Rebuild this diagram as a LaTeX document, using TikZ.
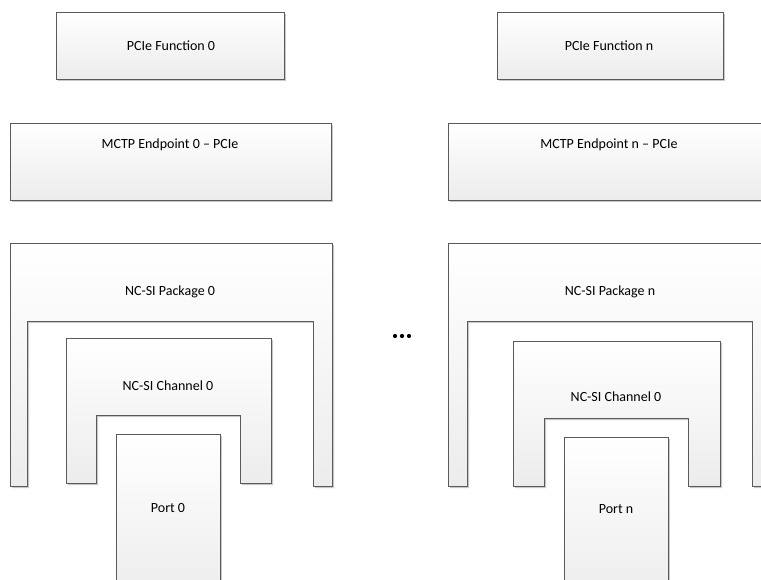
\documentclass[tikz,border=0pt]{standalone}
\usepackage{fontspec}
\setmainfont{Carlito}
\begin{document}
\begin{tikzpicture}[x=1pt,y=-1pt,
  box/.style={draw=bordergray, line width=0.9pt, top color=white, bottom color=fillbot},
  shadowbox/.style={fill=shadowgray, draw=none, shift={(2,2)}},
  lbl/.style={font=\fontsize{14}{16}\selectfont, inner sep=0pt, text=black}]
\definecolor{bordergray}{HTML}{5A5A5A}
\definecolor{fillbot}{HTML}{ECECEC}
\definecolor{shadowgray}{HTML}{C8C8C8}
\useasboundingbox (0,0) rectangle (761,580);
\clip (0,0) rectangle (761,580);
% ---------------- left column ----------------
% PCIe Function 0
\path[shadowbox] (56,12) rectangle (284,79);
\path[box] (56,12) rectangle (284,79);
\node[lbl] (pf0) at (171,46) {PCIe Function 0};
% MCTP Endpoint 0
\path[shadowbox] (10,123) rectangle (331,200);
\path[box] (10,123) rectangle (331,200);
\node[lbl] (me0) at (170,145) {MCTP Endpoint 0 – PCIe};
% NC-SI Package 0
\path[shadowbox] (10,243) -- (332,243) -- (332,486) -- (313,486) -- (313,321) -- (27,321) -- (27,486) -- (10,486) -- cycle;
\path[box] (10,243) -- (332,243) -- (332,486) -- (313,486) -- (313,321) -- (27,321) -- (27,486) -- (10,486) -- cycle;
\node[lbl] (pk0) at (170,292) {NC-SI Package 0};
% NC-SI Channel 0
\path[shadowbox] (66,338) -- (271,338) -- (271,483) -- (240,483) -- (240,415) -- (96,415) -- (96,483) -- (66,483) -- cycle;
\path[box] (66,338) -- (271,338) -- (271,483) -- (240,483) -- (240,415) -- (96,415) -- (96,483) -- (66,483) -- cycle;
\node[lbl] (ch0) at (168,386) {NC-SI Channel 0};
% Port 0
\path[shadowbox] (116,434) rectangle (220,600);
\path[box] (116,434) rectangle (220,600);
\node[lbl] (pt0) at (168,508) {Port 0};
% ---------------- dots ----------------
\foreach \dx in {-7,0,7} {\fill[black] (402+\dx,336) circle (2.1);}
\coordinate (dots) at (402,336);
% ---------------- right column ----------------
% PCIe Function n
\path[shadowbox] (497,12) rectangle (723,79);
\path[box] (497,12) rectangle (723,79);
\node[lbl] (pfn) at (609,46) {PCIe Function n};
% MCTP Endpoint n
\path[shadowbox] (448,123) rectangle (772,200);
\path[box] (448,123) rectangle (772,200);
\node[lbl] (men) at (609,145) {MCTP Endpoint n – PCIe};
% NC-SI Package n
\path[shadowbox] (448,243) -- (772,243) -- (772,486) -- (752,486) -- (752,321) -- (467,321) -- (467,486) -- (448,486) -- cycle;
\path[box] (448,243) -- (772,243) -- (772,486) -- (752,486) -- (752,321) -- (467,321) -- (467,486) -- (448,486) -- cycle;
\node[lbl] (pkn) at (610,292) {NC-SI Package n};
% NC-SI Channel 0 (right)
\path[shadowbox] (513,341) -- (720,341) -- (720,486) -- (688,486) -- (688,418) -- (544,418) -- (544,486) -- (513,486) -- cycle;
\path[box] (513,341) -- (720,341) -- (720,486) -- (688,486) -- (688,418) -- (544,418) -- (544,486) -- (513,486) -- cycle;
\node[lbl] (chn) at (616,397) {NC-SI Channel 0};
% Port n
\path[shadowbox] (564,437) rectangle (668,600);
\path[box] (564,437) rectangle (668,600);
\node[lbl] (ptn) at (616,509) {Port n};
\end{tikzpicture}
\end{document}
